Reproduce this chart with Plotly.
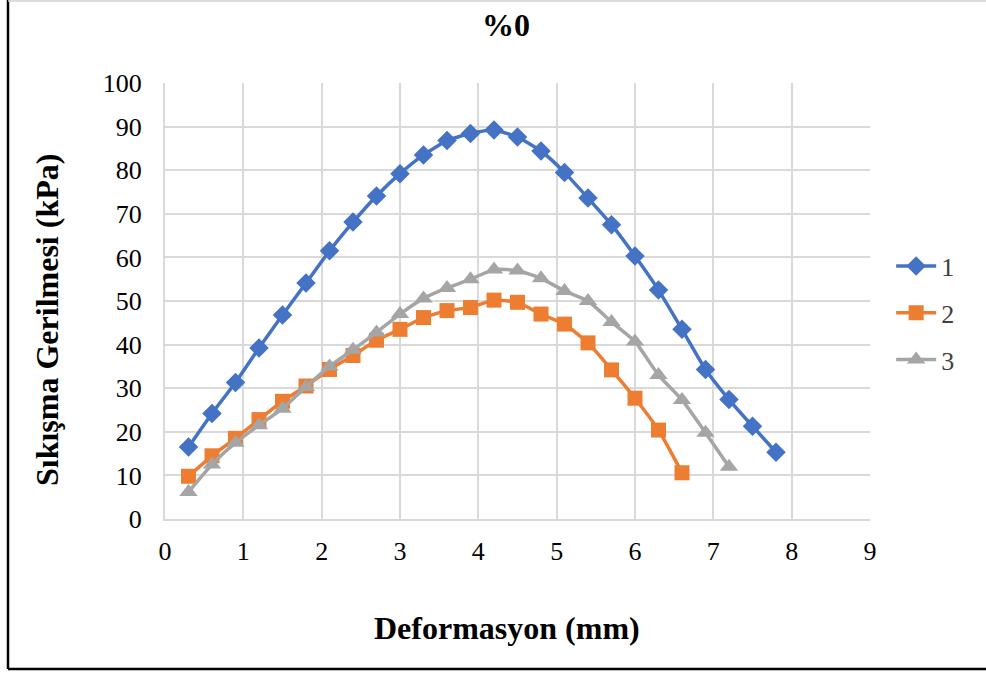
import plotly.graph_objects as go

# Deformation (mm) sampled every 0.3 mm
x1 = [0.3, 0.6, 0.9, 1.2, 1.5, 1.8, 2.1, 2.4, 2.7, 3.0, 3.3, 3.6, 3.9, 4.2, 4.5, 4.8, 5.1,
      5.4, 5.7, 6.0, 6.3, 6.6, 6.9, 7.2, 7.5, 7.8]
y1 = [16.5, 24.2, 31.3, 39.2, 46.8, 54.1, 61.5, 68.1, 74.1, 79.2, 83.5, 86.8, 88.4, 89.2,
      87.6, 84.4, 79.5, 73.6, 67.5, 60.3, 52.5, 43.5, 34.3, 27.4, 21.3, 15.3]

x2 = [0.3, 0.6, 0.9, 1.2, 1.5, 1.8, 2.1, 2.4, 2.7, 3.0, 3.3, 3.6, 3.9, 4.2, 4.5, 4.8, 5.1,
      5.4, 5.7, 6.0, 6.3, 6.6]
y2 = [9.8, 14.5, 18.5, 22.8, 27.0, 30.5, 34.3, 37.5, 41.0, 43.5, 46.2, 47.8, 48.5, 50.2,
      49.7, 47.0, 44.7, 40.4, 34.2, 27.7, 20.4, 10.6]

x3 = [0.3, 0.6, 0.9, 1.2, 1.5, 1.8, 2.1, 2.4, 2.7, 3.0, 3.3, 3.6, 3.9, 4.2, 4.5, 4.8, 5.1,
      5.4, 5.7, 6.0, 6.3, 6.6, 6.9, 7.2]
y3 = [6.2, 12.5, 17.5, 21.5, 25.3, 30.3, 35.0, 38.8, 42.8, 47.0, 50.6, 53.0, 55.0, 57.2,
      57.0, 55.2, 52.3, 50.0, 45.2, 40.7, 33.0, 27.3, 19.8, 12.0]

series = [
    ("1", x1, y1, "#4472C4", "diamond", 15),
    ("2", x2, y2, "#ED7D31", "square", 15),
    ("3", x3, y3, "#A5A5A5", "triangle-up", 16),
]

serif = "Liberation Serif, Times New Roman, serif"

fig = go.Figure()
for name, xs, ys, color, symbol, size in series:
    fig.add_trace(go.Scatter(
        x=xs, y=ys, name=name, legendgroup=name, mode="lines+markers",
        line=dict(color=color, width=3.5, shape="spline", smoothing=0.5),
        marker=dict(symbol=symbol, size=size, color=color),
    ))

fig.update_layout(
    width=986, height=675,
    margin=dict(l=165, r=116, t=83, b=156),
    paper_bgcolor="white", plot_bgcolor="white",
    font=dict(family=serif, size=26, color="#000000"),
    showlegend=True,
    legend=dict(x=1.03, y=(519 - 313) / 436, xanchor="left", yanchor="middle",
                font=dict(family=serif, size=26, color="#404040"),
                itemwidth=40, tracegroupgap=10, bgcolor="rgba(0,0,0,0)"),
    xaxis=dict(range=[0, 9], tick0=0, dtick=1, showgrid=True, gridcolor="#D9D9D9",
               gridwidth=2, zeroline=False, showline=True, linecolor="#D9D9D9",
               linewidth=2, ticks="", ticklabelstandoff=8,
               tickfont=dict(family=serif, size=26, color="#000000")),
    yaxis=dict(range=[0, 100], tick0=0, dtick=10, showgrid=True, gridcolor="#D9D9D9",
               gridwidth=2, zeroline=False, showline=True, linecolor="#D9D9D9",
               linewidth=2, ticks="", ticklabelstandoff=16,
               tickfont=dict(family=serif, size=26, color="#000000")),
    annotations=[
        dict(text="<b>%0</b>", xref="paper", yref="paper", x=(506 - 165) / 705, y=1 + 58 / 436,
             xanchor="center", yanchor="middle", showarrow=False,
             font=dict(family=serif, size=32, color="#000000")),
        dict(text="<b>Deformasyon (mm)</b>", xref="paper", yref="paper",
             x=(507 - 165) / 705, y=-(628 - 519) / 436, xanchor="center", yanchor="middle",
             showarrow=False, font=dict(family=serif, size=32, color="#000000")),
        dict(text="<b>Sıkışma Gerilmesi (kPa)</b>", xref="paper", yref="paper",
             x=-(165 - 47) / 705, y=(519 - 320) / 436, xanchor="center", yanchor="middle",
             textangle=-90, showarrow=False,
             font=dict(family=serif, size=32, color="#000000")),
    ],
    shapes=[
        dict(type="line", xref="paper", yref="paper", x0=-(165 - 8) / 705, x1=-(165 - 8) / 705,
             y0=1 + 83 / 436, y1=-(669 - 519) / 436, line=dict(color="#000000", width=2.5)),
        dict(type="line", xref="paper", yref="paper", x0=-(165 - 8) / 705, x1=1 + 116 / 705,
             y0=-(669 - 519) / 436, y1=-(669 - 519) / 436, line=dict(color="#000000", width=2.5)),
        dict(type="line", xref="paper", yref="paper", x0=-(165 - 8) / 705, x1=1 + 116 / 705,
             y0=1 + 82 / 436, y1=1 + 82 / 436, line=dict(color="#D0D0D0", width=1.5)),
    ],
)

fig.write_html("out.html")
